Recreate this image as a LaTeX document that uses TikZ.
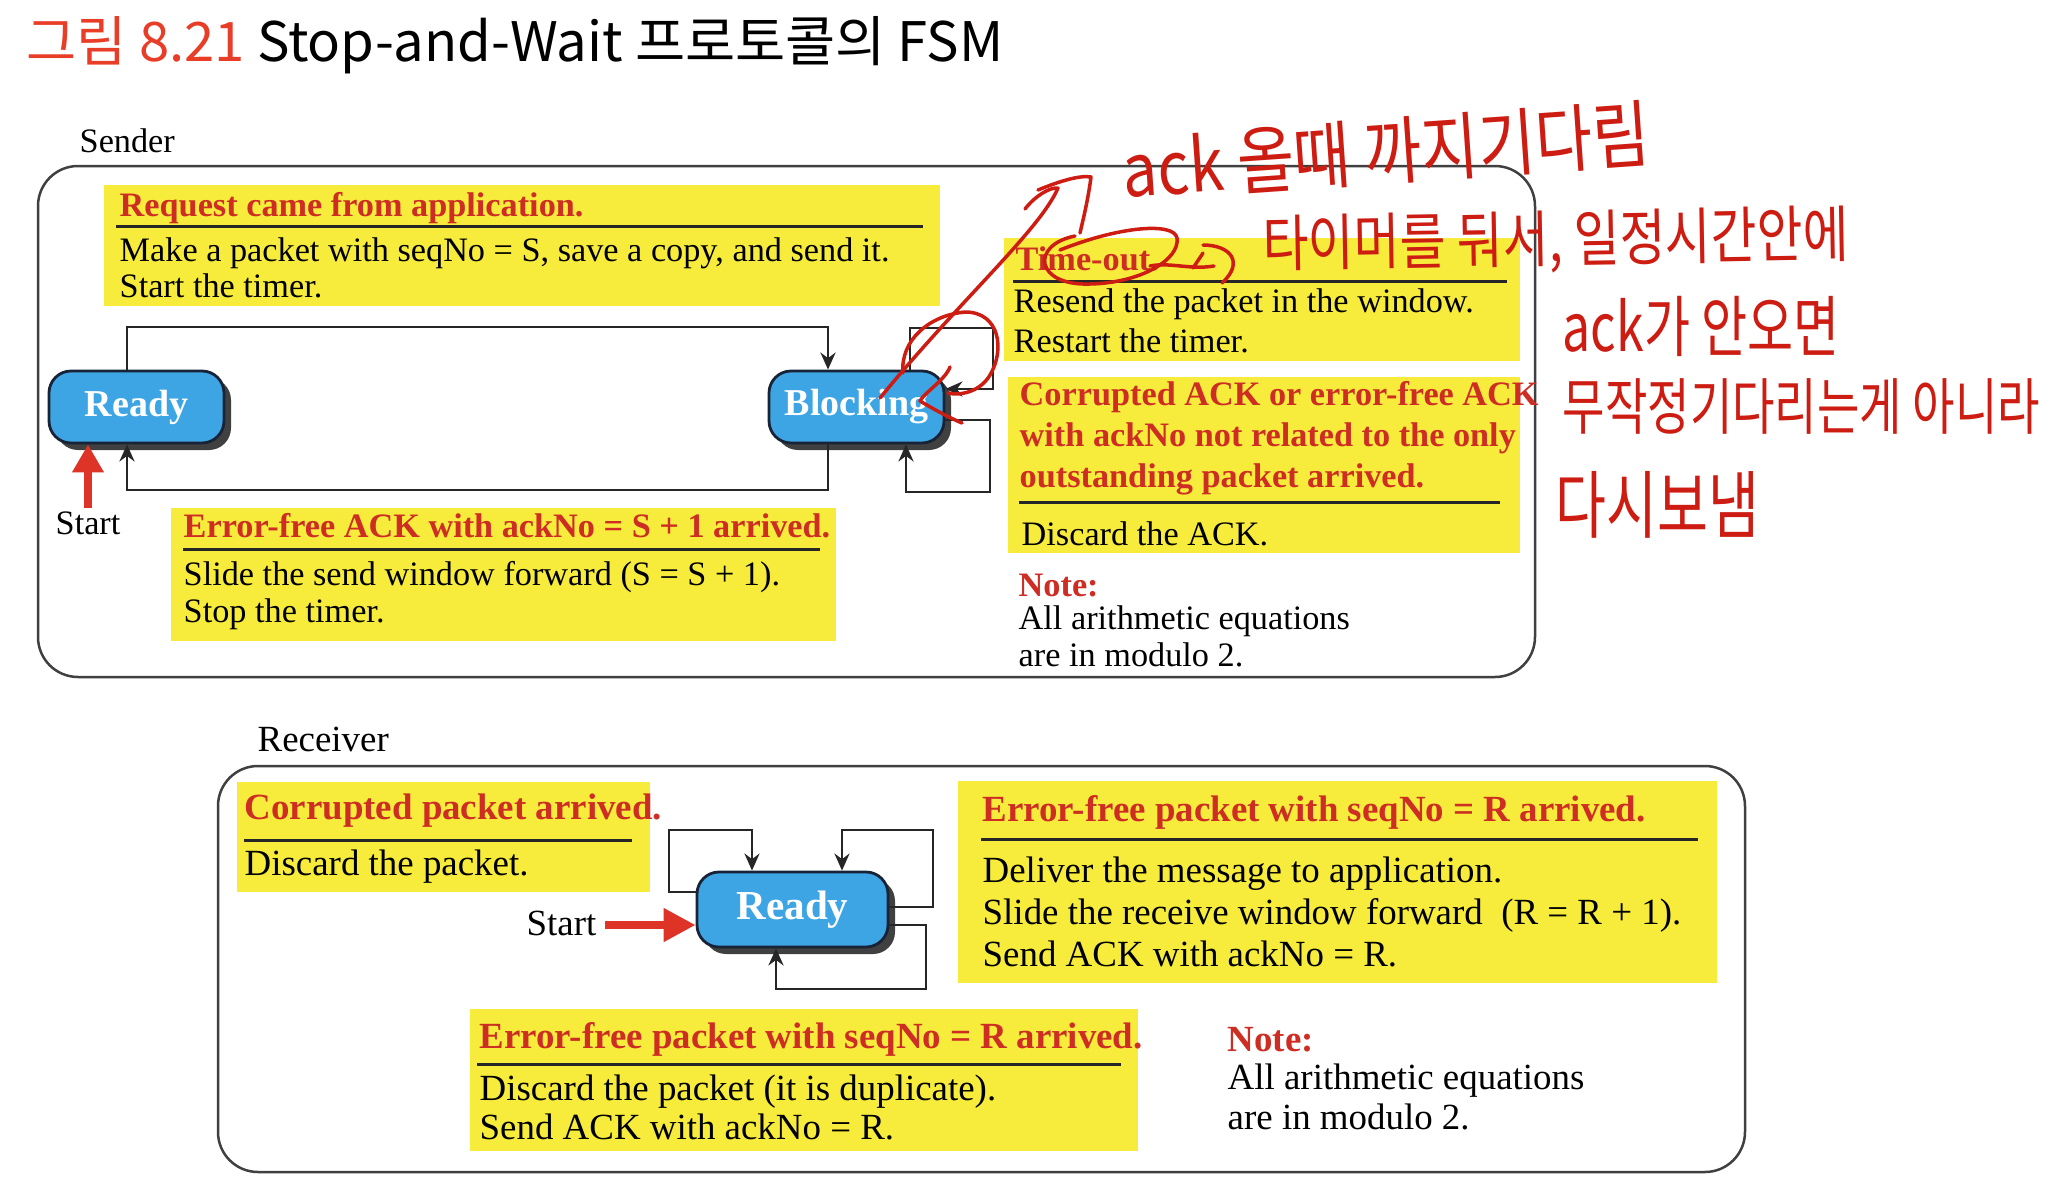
\documentclass[tikz,border=0pt]{standalone}
\usepackage{fontspec}
\setmainfont{Liberation Serif}
\newfontfamily\krfont{Noto Sans CJK KR}
\newfontfamily\handfont[FakeStretch=0.75]{Noto Sans CJK KR}
\usepackage{tikz}
\usetikzlibrary{arrows.meta,positioning,shadows}

\definecolor{hlyellow}{RGB}{247,236,60}
\definecolor{hdred}{RGB}{205,45,35}
\definecolor{titlered}{RGB}{232,62,40}
\definecolor{stateblue}{RGB}{62,165,228}
\definecolor{stateedge}{RGB}{25,35,55}
\definecolor{startred}{RGB}{222,52,40}
\definecolor{handred}{RGB}{205,28,18}

\begin{document}
\begin{tikzpicture}[x=0.1mm,y=-0.1mm,
  frame/.style={draw=black!75,line width=0.25mm,rounded corners=4mm,inner sep=0pt,outer sep=0pt,anchor=north west},
  ybox/.style={fill=hlyellow,inner sep=0pt,outer sep=0pt,anchor=north west},
  sline/.style={anchor=base west,inner sep=0pt,font=\fontsize{9.75}{11}\selectfont},
  shead/.style={sline,text=hdred,font=\fontsize{9.75}{11}\selectfont\bfseries},
  rline/.style={anchor=base west,inner sep=0pt,font=\fontsize{10.5}{12}\selectfont},
  rhead/.style={rline,text=hdred,font=\fontsize{10.5}{12}\selectfont\bfseries},
  uline/.style={line width=0.3mm,draw=black!85},
  state/.style={draw=stateedge,line width=0.28mm,fill=stateblue,rounded corners=2.2mm,
    minimum width=17.5mm,minimum height=7.2mm,inner sep=0pt,text=white,
    font=\fontsize{10.8}{12}\selectfont\bfseries,
    drop shadow={shadow xshift=0.7mm,shadow yshift=-0.7mm,fill=black!75,opacity=1}},
  fsm/.style={line width=0.28mm,draw=black!85,-{Stealth[length=1.7mm,width=1.5mm]}},
  startarr/.style={line width=0.75mm,draw=startred,-{Triangle[length=2.8mm,width=3mm]}},
  hand/.style={anchor=west,inner sep=0pt,text=handred,font=\handfont\fontsize{#1}{#1}\selectfont},
  stroke/.style={draw=handred,line width=0.35mm,line cap=round,line join=round}]
 \fill[white] (0,0) rectangle (2068,1194);
 \useasboundingbox (0,0) rectangle (2068,1194);
 % title
 \node[anchor=base west,inner sep=0pt,font=\krfont\fontsize{15.5}{18}\selectfont] (title) at (26,61)
   {\textcolor{titlered}{그림 8.21} Stop-and-Wait 프로토콜의 FSM};

 % ---------- sender ----------
 \node[sline] (slabel) at (79,152) {Sender};
 \node[frame,minimum width=149.7mm,minimum height=51.1mm] (sbox) at (38,166) {};
 \node[ybox,minimum width=83.6mm,minimum height=12.1mm] (yreq) at (104,185) {};
 \node[ybox,minimum width=66.5mm,minimum height=13.3mm] (yack) at (171,508) {};
 \node[ybox,minimum width=51.6mm,minimum height=12.3mm] (ytime) at (1004,238) {};
 \node[ybox,minimum width=51.2mm,minimum height=17.6mm] (ycorr) at (1008,377) {};

 % request came
 \node[shead] (reqh) at (119,216) {Request came from application.};
 \draw[uline] (116,226) -- (923,226);
 \foreach \n/\y/\t in {1/261/{Make a packet with seqNo = S, save a copy, and send it.},2/297/{Start the timer.}}
   \node[sline] (req\n) at (119,\y) {\t};
 % ack arrived
 \node[shead] (ackh) at (183,537) {Error-free ACK with ackNo = S + 1 arrived.};
 \draw[uline] (183,549) -- (820,549);
 \foreach \n/\y/\t in {1/585/{Slide the send window forward (S = S + 1).},2/622/{Stop the timer.}}
   \node[sline] (ack\n) at (183,\y) {\t};
 % time-out
 \node[shead] (timeh) at (1015,270) {Time-out.};
 \draw[uline] (1013,281) -- (1507,281);
 \foreach \n/\y/\t in {1/312/{Resend the packet in the window.},2/352/{Restart the timer.}}
   \node[sline] (time\n) at (1013,\y) {\t};
 % corrupted ack
 \foreach \n/\y/\t in {1/405/{Corrupted ACK or error-free ACK},2/446/{with ackNo not related to the only},3/487/{outstanding packet arrived.}}
   \node[shead] (corrh\n) at (1019,\y) {\t};
 \draw[uline] (1019,502) -- (1500,502);
 \node[sline] (corr1) at (1021,545) {Discard the ACK.};
 % note
 \node[shead] (snote) at (1018,596) {Note:};
 \node[sline] (snote1) at (1018,629) {All arithmetic equations};
 \node[sline] (snote2) at (1018,666) {are in modulo 2.};

 % states
 \node[state] (sready) at (136.5,407) {Ready};
 \node[state] (sblock) at (856.5,407) {Blocking};
 \coordinate (t1) at (127,327);
 \coordinate (t2) at (828,327);
 \coordinate (b1) at (828,490);
 \coordinate (b2) at (127,490);
 \draw[fsm] (sready.north -| t1) -- (t1) -- (t2) -- (sblock.north -| t2);
 \draw[fsm] (sblock.south -| b1) -- (b1) -- (b2) -- (sready.south -| b2);
 % self loops on blocking
 \coordinate (l1) at (910,328);
 \coordinate (l2) at (993,328);
 \coordinate (l3) at (993,389);
 \coordinate (l4) at (990,420);
 \coordinate (l5) at (990,492);
 \coordinate (l6) at (906,492);
 \draw[fsm] (sblock.north -| l1) -- (l1) -- (l2) -- (l3) -- (sblock.east |- l3);
 \draw[fsm] (sblock.east |- l4) -- (l4) -- (l5) -- (l6) -- (sblock.south -| l6);
 % start
 \coordinate (sstart) at (88,508);
 \draw[startarr] (sstart) -- (sready.south -| sstart);
 \node[sline] (sstartlbl) at (55,534) {Start};

 % ---------- receiver ----------
 \node[rline] (rlabel) at (257,751) {Receiver};
 \node[frame,minimum width=152.7mm,minimum height=40.6mm] (rbox) at (218,766) {};
 \node[ybox,minimum width=41.3mm,minimum height=11mm] (rcorr) at (237,782) {};
 \node[ybox,minimum width=75.9mm,minimum height=20.2mm] (rnew) at (958,781) {};
 \node[ybox,minimum width=66.8mm,minimum height=14.2mm] (rdup) at (470,1009) {};

 \node[rhead] (rcorrh) at (244,819) {Corrupted packet arrived.};
 \draw[uline] (244,840) -- (632,840);
 \node[rline] (rcorr1) at (244,875) {Discard the packet.};

 \node[rhead] (rnewh) at (982,821) {Error-free packet with seqNo = R arrived.};
 \draw[uline] (981,839) -- (1698,839);
 \foreach \n/\y/\t in {1/882/{Deliver the message to application.},2/924/{Slide the receive window forward\ \ (R = R + 1).},3/966/{Send ACK with ackNo = R.}}
   \node[rline] (rnew\n) at (982,\y) {\t};

 \node[rhead] (rduph) at (479,1048) {Error-free packet with seqNo = R arrived.};
 \draw[uline] (477,1064) -- (1121,1064);
 \foreach \n/\y/\t in {1/1100/{Discard the packet (it is duplicate).},2/1139/{Send ACK with ackNo = R.}}
   \node[rline] (rdup\n) at (479,\y) {\t};

 \node[rhead] (rnote) at (1227,1051) {Note:};
 \node[rline] (rnote1) at (1227,1089) {All arithmetic equations};
 \node[rline] (rnote2) at (1227,1129) {are in modulo 2.};

 \node[state,minimum width=19.1mm,minimum height=7.5mm,font=\fontsize{11.7}{13}\selectfont\bfseries] (rready) at (792.5,909.5) {Ready};
 \coordinate (m1) at (669,892);
 \coordinate (m2) at (669,830);
 \coordinate (m3) at (752,830);
 \coordinate (m4) at (933,907);
 \coordinate (m5) at (933,830);
 \coordinate (m6) at (842,830);
 \coordinate (m7) at (926,925);
 \coordinate (m8) at (926,989);
 \coordinate (m9) at (776,989);
 \draw[fsm] (rready.west |- m1) -- (m1) -- (m2) -- (m3) -- (rready.north -| m3);
 \draw[fsm] (rready.east |- m4) -- (m4) -- (m5) -- (m6) -- (rready.north -| m6);
 \draw[fsm] (rready.east |- m7) -- (m7) -- (m8) -- (m9) -- (rready.south -| m9);
 \coordinate (rstart) at (605,925);
 \draw[startarr,-{Triangle[length=3.2mm,width=3.2mm]}] (rstart) -- (rready.west |- rstart);
 \node[rline] (rstartlbl) at (526,935) {Start};

 % ---------- handwritten notes ----------
 \node[hand=21,rotate=4,xscale=1.12] (hw1) at (1122,170) {ack 올때 까지기다림};
 \node[hand=17.5,rotate=1,xscale=1.08] (hw2) at (1262,247) {타이머를 둬서, 일정시간안에};
 \node[hand=19] (hw3) at (1562,326) {ack가 안오면};
 \node[hand=17.5] (hw4) at (1562,406) {무작정기다리는게 아니라};
 \node[hand=21] (hw5) at (1555,505) {다시보냄};
 % marks round time-out and the blocking loop
 \draw[stroke] (1025,209) .. controls (1035,196) and (1050,187) .. (1058,188)
   .. controls (1040,230) and (960,300) .. (880,398);
 \draw[stroke] (1038,190) .. controls (1060,181) and (1080,175) .. (1091,177)
   .. controls (1088,200) and (1083,220) .. (1080,233);
 \draw[stroke] (1075,236) .. controls (1030,245) and (1035,286) .. (1090,284)
   .. controls (1140,283) and (1180,260) .. (1177,238)
   .. controls (1174,222) and (1120,226) .. (1060,250);
 \draw[stroke] (1150,266) .. controls (1170,262) and (1190,270) .. (1214,266);
 \draw[stroke] (1203,253) -- (1193,268);
 \draw[stroke] (1203,245) .. controls (1230,245) and (1245,262) .. (1222,283);
 \draw[stroke] (903,373) .. controls (900,340) and (930,315) .. (965,312)
   .. controls (1000,312) and (1005,350) .. (990,375)
   .. controls (980,392) and (960,396) .. (948,393);
 \draw[stroke] (950,367) .. controls (945,380) and (925,392) .. (920,401)
   .. controls (935,410) and (950,418) .. (962,423);
\end{tikzpicture}
\end{document}
